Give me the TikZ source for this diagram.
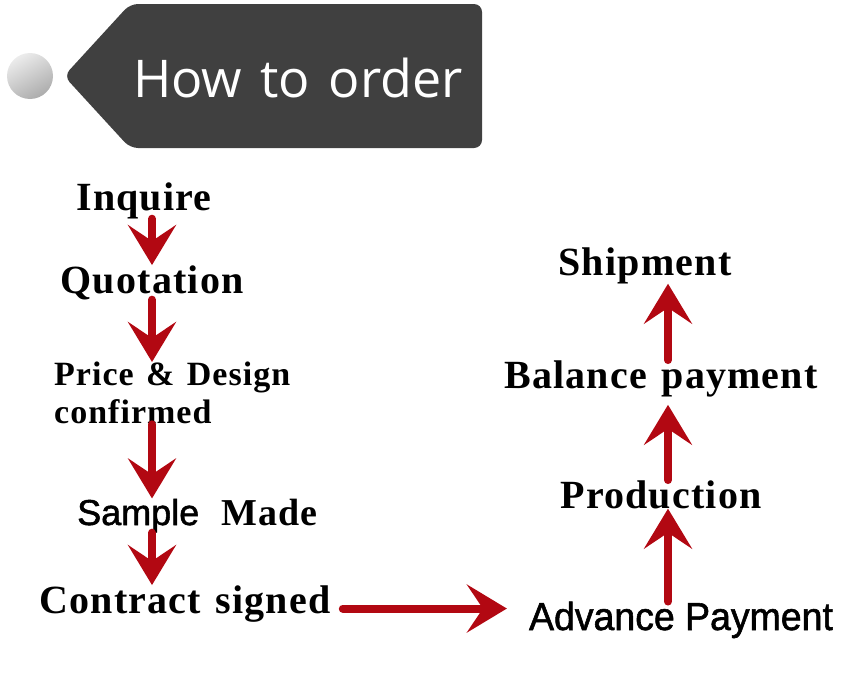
\documentclass[tikz,border=0pt]{standalone}
\usepackage{fontspec}
\usepackage{xcolor}
\usepackage{graphicx}
\usepackage{tikz}
\usetikzlibrary{arrows.meta,positioning,calc}
\newfontfamily\stepserif[LetterSpace=3,WordSpace=1.8]{Liberation Serif}
\newfontfamily\stepserifnarrow[LetterSpace=3,WordSpace=1.3]{Liberation Serif}
\newfontfamily\stepsans[FakeBold=1.5]{Liberation Sans}
\newfontfamily\titlesans[WordSpace=1.35]{Open Sans}
\definecolor{arrowred}{RGB}{178,8,18}
\definecolor{tabgray}{RGB}{64,64,64}

\begin{document}
\begin{tikzpicture}[x=1pt, y=-1pt,
    steptext/.style={font=\stepserif\bfseries\fontsize{40}{44}\selectfont, inner sep=0pt, anchor=base},
    flow/.style={line width=8pt, line cap=round, arrowred, -{Stealth[length=40pt,width=48pt,inset=16pt]}}]
    \useasboundingbox (0,0) rectangle (850,680);
    % header tab and bullet
    \fill[tabgray, rounded corners=8pt] (482,4) -- (130,4) -- (64,76) -- (130,148) -- (482,148) -- cycle;
    \shade[top color=gray!15, bottom color=gray!65, shading angle=30] (30,76) circle (23pt);
    \node[font=\titlesans\fontsize{52}{56}\selectfont, text=white, anchor=base west, inner sep=0pt] (title) at (133,97) {How to order};

    % left column, top to bottom
    \node[steptext] (inq) at (144,210) {Inquire};
    \node[steptext] (quo) at (152,293) {Quotation};
    \node[steptext, anchor=north west, align=left, font=\stepserifnarrow\bfseries\fontsize{34}{38}\selectfont] (pd) at (54,362) {Price \& Design\\confirmed};
    \node[steptext, anchor=base west, font=\stepserif\bfseries\fontsize{38}{42}\selectfont] (sam) at (77,525) {{\stepsans\mdseries\fontsize{36}{40}\selectfont Sample}\hspace{22pt}Made};
    \node[steptext] (con) at (185,613) {Contract signed};
    \coordinate (hook) at ([yshift=-5pt]con.east);

    % right column, bottom to top
    \coordinate (spine) at (668,0);
    \node[steptext, font=\stepsans\fontsize{39}{43}\selectfont] (adv) at (681,630) {\scalebox{0.96}[1]{Advance Payment}};
    \node[steptext] (prod) at (661,508) {Production};
    \node[steptext] (bal) at (661,388) {Balance payment};
    \node[steptext] (ship) at (645,275) {Shipment};

    \draw[flow] (quo.north |- inq.south) -- (quo.north);
    \draw[flow] (quo.south) -- (quo.south |- pd.north);
    \draw[flow] (quo.south |- pd.south) -- (quo.south |- sam.north);
    \draw[flow] (quo.south |- sam.south) -- (quo.south |- con.north);
    \draw[flow, shorten <=12pt, shorten >=22pt] (hook) -- (hook -| adv.west);
    \draw[flow] (adv.north -| spine) -- (prod.south -| spine);
    \draw[flow, shorten >=8pt] (prod.north -| spine) -- (bal.south -| spine);
    \draw[flow] (bal.north -| spine) -- (ship.south -| spine);
\end{tikzpicture}
\end{document}
